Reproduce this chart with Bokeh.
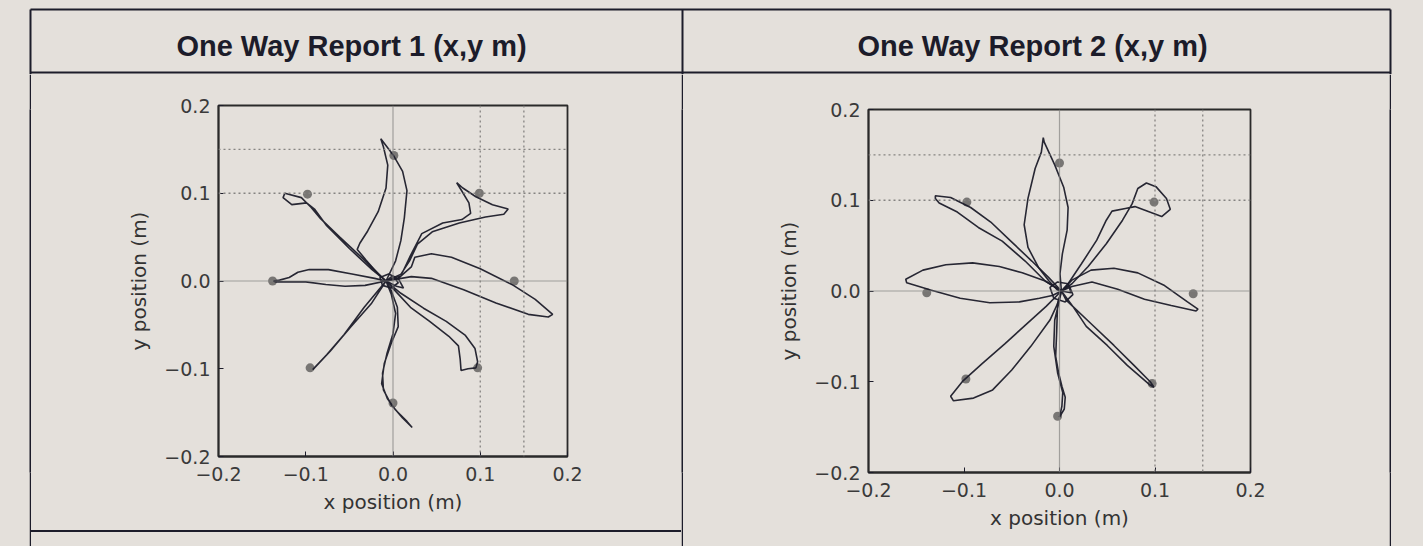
from bokeh.plotting import figure
from bokeh.layouts import row, column
from bokeh.models import (Range1d, FixedTicker, CustomJSTickFormatter, Span, Spacer,
                          GlobalInlineStyleSheet)
from bokeh.core.properties import value
from bokeh.embed import file_html
from bokeh.resources import INLINE

BG = "#e4e0db"
INK = "#1c1c2a"
GRID = "#858381"
TARGET = "#787674"

titles = ["One Way Report 1 (x,y m)", "One Way Report 2 (x,y m)"]
axis_ticks = [-0.2, -0.1, 0.0, 0.1, 0.2]
x_label = "x position (m)"
y_label = "y position (m)"
solid_grid = [0.0]
dotted_grid = [0.1, 0.15]

# ---- Report 1: target markers ----
t1_x = [0.001, 0.099, 0.139, 0.097, 0.000, -0.095, -0.138, -0.098]
t1_y = [0.143, 0.100, 0.000, -0.099, -0.139, -0.099, 0.000, 0.099]

# ---- Report 1: hand paths (out and back) ----
r1_n_x = [-0.008, 0.003, 0.009, 0.013, 0.016, 0.011, 0.0, -0.014, -0.011, -0.006, -0.008, -0.017, -0.029, -0.038, -0.041, -0.031, -0.017, -0.008]
r1_n_y = [0.0, 0.023, 0.046, 0.072, 0.103, 0.125, 0.144, 0.162, 0.153, 0.132, 0.106, 0.079, 0.057, 0.043, 0.036, 0.024, 0.008, 0.0]
r1_nw_x = [-0.008, -0.035, -0.061, -0.083, -0.094, -0.105, -0.124, -0.126, -0.116, -0.099, -0.090, -0.076, -0.050, -0.024, -0.008]
r1_nw_y = [0.0, 0.026, 0.050, 0.071, 0.084, 0.095, 0.100, 0.095, 0.087, 0.089, 0.082, 0.063, 0.037, 0.013, 0.0]
r1_w_x = [-0.008, -0.032, -0.055, -0.077, -0.100, -0.119, -0.134, -0.137, -0.130, -0.119, -0.109, -0.096, -0.074, -0.047, -0.021, -0.008]
r1_w_y = [0.0, -0.005, -0.006, -0.004, -0.001, -0.001, -0.001, 0.0, 0.001, 0.004, 0.010, 0.013, 0.013, 0.008, 0.003, 0.0]
r1_sw_x = [-0.008, -0.033, -0.056, -0.076, -0.092, -0.090, -0.072, -0.049, -0.025, -0.008]
r1_sw_y = [0.0, -0.030, -0.061, -0.084, -0.101, -0.099, -0.080, -0.053, -0.026, 0.0]
r1_s_x = [-0.008, -0.002, 0.003, 0.0, -0.007, -0.012, -0.011, -0.002, 0.011, 0.022, 0.016, 0.003, -0.0065, -0.013, -0.010, -0.002, 0.006, 0.005, -0.002, -0.008]
r1_s_y = [0.0, -0.015, -0.037, -0.060, -0.083, -0.105, -0.124, -0.141, -0.156, -0.167, -0.160, -0.147, -0.134, -0.117, -0.094, -0.071, -0.052, -0.030, -0.011, 0.0]
r1_se_x = [-0.008, 0.009, 0.035, 0.061, 0.083, 0.094, 0.097, 0.095, 0.086, 0.078, 0.077, 0.075, 0.064, 0.042, 0.020, 0.006, -0.008]
r1_se_y = [0.0, -0.014, -0.031, -0.046, -0.062, -0.077, -0.092, -0.099, -0.100, -0.102, -0.089, -0.074, -0.063, -0.046, -0.030, -0.015, 0.0]
r1_e_x = [-0.008, 0.006, 0.021, 0.025, 0.044, 0.067, 0.100, 0.138, 0.163, 0.183, 0.178, 0.155, 0.118, 0.081, 0.044, 0.021, -0.008]
r1_e_y = [0.0, 0.003, 0.016, 0.027, 0.031, 0.027, 0.014, -0.005, -0.021, -0.038, -0.041, -0.038, -0.025, -0.010, 0.003, 0.005, 0.0]
r1_ne_x = [-0.008, 0.010, 0.020, 0.033, 0.057, 0.079, 0.089, 0.087, 0.078, 0.073, 0.080, 0.095, 0.114, 0.132, 0.127, 0.106, 0.076, 0.045, 0.028, 0.019, 0.006, -0.008]
r1_ne_y = [0.0, 0.008, 0.029, 0.054, 0.066, 0.070, 0.077, 0.089, 0.104, 0.112, 0.106, 0.096, 0.087, 0.082, 0.076, 0.073, 0.066, 0.056, 0.042, 0.023, 0.003, 0.0]
r1_c_x = [-0.008, 0.0, 0.006, -0.002, -0.012, -0.015, -0.005, 0.006, 0.012, 0.004, -0.008]
r1_c_y = [0.0, 0.006, -0.002, -0.008, -0.005, 0.004, 0.008, 0.003, -0.008, -0.006, 0.0]

# ---- Report 2: target markers ----
t2_x = [0.000, 0.099, 0.140, 0.097, -0.002, -0.098, -0.139, -0.097]
t2_y = [0.141, 0.098, -0.003, -0.102, -0.138, -0.097, -0.002, 0.098]

# ---- Report 2: hand paths ----
r2_n_x = [0.002, 0.0005, 0.003, 0.008, 0.009, 0.0045, -0.005, -0.016, -0.017, -0.019, -0.0255, -0.033, -0.037, -0.033, -0.022, -0.011, -0.002, 0.002]
r2_n_y = [0.0, 0.019, 0.041, 0.067, 0.092, 0.114, 0.139, 0.164, 0.169, 0.153, 0.135, 0.102, 0.073, 0.048, 0.026, 0.011, 0.001, 0.0]
r2_nw_x = [0.002, -0.0115, -0.029, -0.051, -0.072, -0.093, -0.114, -0.130, -0.130, -0.126, -0.107, -0.085, -0.060, -0.036, -0.015, 0.002]
r2_nw_y = [0.0, 0.015, 0.033, 0.055, 0.076, 0.092, 0.103, 0.105, 0.102, 0.097, 0.087, 0.070, 0.055, 0.033, 0.011, 0.0]
r2_w_x = [0.002, -0.015, -0.039, -0.063, -0.091, -0.119, -0.143, -0.161, -0.160, -0.135, -0.104, -0.073, -0.042, -0.021, -0.0075, 0.002]
r2_w_y = [0.0, 0.011, 0.020, 0.027, 0.031, 0.029, 0.023, 0.013, 0.009, 0.001, -0.008, -0.013, -0.012, -0.008, -0.005, 0.0]
r2_sw_x = [0.002, -0.014, -0.034, -0.057, -0.081, -0.101, -0.114, -0.111, -0.090, -0.070, -0.050, -0.030, -0.010, -0.002, 0.002]
r2_sw_y = [0.0, -0.017, -0.036, -0.058, -0.080, -0.099, -0.116, -0.121, -0.118, -0.109, -0.087, -0.061, -0.032, -0.014, 0.0]
r2_s_x = [0.002, -0.002, -0.003, -0.004, -0.001, 0.0025, 0.006, 0.005, 0.0, 0.0025, 0.0034, -0.002, -0.006, -0.005, 0.0, 0.002]
r2_s_y = [0.0, -0.014, -0.046, -0.072, -0.090, -0.105, -0.117, -0.130, -0.139, -0.127, -0.112, -0.090, -0.061, -0.032, -0.010, 0.0]
r2_se_x = [0.002, 0.007, 0.032, 0.057, 0.078, 0.095, 0.099, 0.094, 0.071, 0.050, 0.028, 0.014, 0.002]
r2_se_y = [0.0, -0.010, -0.035, -0.060, -0.082, -0.100, -0.106, -0.103, -0.082, -0.060, -0.039, -0.017, 0.0]
r2_e_x = [0.002, 0.013, 0.033, 0.057, 0.082, 0.110, 0.134, 0.145, 0.143, 0.117, 0.089, 0.061, 0.034, 0.013, 0.002]
r2_e_y = [0.0, 0.012, 0.023, 0.025, 0.020, 0.006, -0.012, -0.020, -0.022, -0.016, -0.009, 0.002, 0.010, 0.005, 0.0]
r2_ne_x = [0.002, 0.009, 0.023, 0.039, 0.049, 0.055, 0.069, 0.079, 0.107, 0.116, 0.112, 0.101, 0.091, 0.082, 0.076, 0.066, 0.049, 0.030, 0.013, 0.002]
r2_ne_y = [0.0, 0.008, 0.030, 0.056, 0.078, 0.088, 0.091, 0.093, 0.082, 0.090, 0.102, 0.115, 0.119, 0.113, 0.096, 0.078, 0.052, 0.027, 0.008, 0.0]
r2_c_x = [0.002, 0.010, 0.014, 0.006, -0.006, -0.010, -0.002, 0.009, 0.012, 0.002]
r2_c_y = [0.0, 0.006, -0.004, -0.012, -0.008, 0.004, 0.010, 0.008, -0.002, 0.0]

paths1_x = [r1_n_x, r1_nw_x, r1_w_x, r1_sw_x, r1_s_x, r1_se_x, r1_e_x, r1_ne_x, r1_c_x]
paths1_y = [r1_n_y, r1_nw_y, r1_w_y, r1_sw_y, r1_s_y, r1_se_y, r1_e_y, r1_ne_y, r1_c_y]
paths2_x = [r2_n_x, r2_nw_x, r2_w_x, r2_sw_x, r2_s_x, r2_se_x, r2_e_x, r2_ne_x, r2_c_x]
paths2_y = [r2_n_y, r2_nw_y, r2_w_y, r2_sw_y, r2_s_y, r2_se_y, r2_e_y, r2_ne_y, r2_c_y]

FMT = CustomJSTickFormatter(code="return tick.toFixed(1).replace('-', '\\u2212');")


def report_plot(w, h, left, right, top, bottom, px, py, tx, ty):
    p = figure(width=w, height=h, toolbar_location=None, output_backend="svg",
               x_range=Range1d(-0.2, 0.2), y_range=Range1d(-0.2, 0.2),
               min_border_left=left, min_border_right=right,
               min_border_top=top, min_border_bottom=bottom,
               background_fill_color=BG, border_fill_color=BG,
               outline_line_color="#2a2a2a", outline_line_width=1.8)
    p.grid.visible = False
    for ax in (p.xaxis[0], p.yaxis[0]):
        ax.ticker = FixedTicker(ticks=axis_ticks)
        ax.formatter = FMT
        ax.minor_tick_line_color = None
        ax.major_tick_in = 5
        ax.major_tick_out = 0
        ax.major_tick_line_color = INK
        ax.axis_line_color = "#2a2a2a"
        ax.axis_line_width = 1.8
        ax.major_label_text_font = "DejaVu Sans"
        ax.major_label_text_font_size = "19px"
        ax.major_label_text_color = "#3a3a3a"
        ax.axis_label_text_font = "DejaVu Sans"
        ax.axis_label_text_font_size = "20px"
        ax.axis_label_text_font_style = "normal"
        ax.axis_label_text_color = "#333333"
    p.xaxis.major_label_standoff = 10
    p.yaxis.major_label_standoff = 8
    p.xaxis.axis_label = x_label
    p.yaxis.axis_label = y_label
    p.xaxis.axis_label_standoff = 6
    p.yaxis.axis_label_standoff = 10
    for v in solid_grid:
        p.add_layout(Span(location=v, dimension="width", line_color=GRID, line_width=1.2, line_alpha=0.7))
        p.add_layout(Span(location=v, dimension="height", line_color=GRID, line_width=1.2, line_alpha=0.7))
    for v in dotted_grid:
        p.add_layout(Span(location=v, dimension="width", line_color=GRID, line_width=1.3, line_dash="2 3"))
        p.add_layout(Span(location=v, dimension="height", line_color=GRID, line_width=1.3, line_dash="2 3"))
    p.scatter(tx, ty, size=9, color=TARGET, line_color=None)
    p.multi_line(px, py, line_color=INK, line_width=1.6, line_alpha=0.95)
    return p


def vrule(h):
    f = figure(width=2, height=h, toolbar_location=None, output_backend="svg", min_border=0,
               x_axis_location=None, y_axis_location=None,
               background_fill_color=INK, border_fill_color=INK, outline_line_color=None)
    f.grid.visible = False
    return f


# header band with titles and table rules
HW, HH = 1423, 74
hdr = figure(width=HW, height=HH, toolbar_location=None, output_backend="svg", min_border=0,
             x_range=Range1d(0, HW), y_range=Range1d(0, HH),
             x_axis_location=None, y_axis_location=None,
             background_fill_color=BG, border_fill_color=BG, outline_line_color=None)
hdr.grid.visible = False
hdr.segment(x0=[30, 30, 30, 682, 1390], y0=[65, 2, 0, 0, 0], x1=[1390, 1390, 30, 682, 1390], y1=[65, 2, 65, 65, 65],
            line_color=INK, line_width=2)
hdr.text(x=[351, 1032], y=[29, 29], text=titles, text_font=value("Liberation Sans"),
         text_font_style="bold", text_font_size="29px", text_align="center",
         text_baseline="middle", text_color=INK)

p1 = report_plot(650, 456, 187, 114, 31, 74, paths1_x, paths1_y, t1_x, t1_y)
p2 = report_plot(706, 472, 185, 139, 35, 74, paths2_x, paths2_y, t2_x, t2_y)

hrule = Spacer(width=650, height=2, styles={"background-color": INK})
left_col = column(p1, hrule, Spacer(width=650, height=14))
body = row(Spacer(width=29, height=472), vrule(472), left_col, vrule(472), p2,
           vrule(472), Spacer(width=32, height=472))

root = column(hdr, body,
              stylesheets=[GlobalInlineStyleSheet(css="body { background-color: %s; }" % BG)])

open("out.html", "w").write(file_html(root, INLINE))
